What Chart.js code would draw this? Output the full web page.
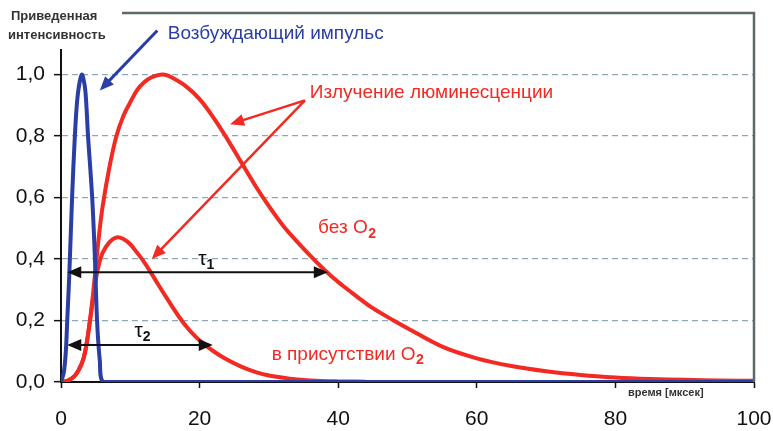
<!DOCTYPE html>
<html><head><meta charset="utf-8">
<script src="https://cdn.jsdelivr.net/npm/chart.js@4/dist/chart.umd.min.js"></script>
<style>html,body{margin:0;padding:0;background:#fff}#wrap{width:773px;height:431px;position:relative}</style>
</head><body><div id="wrap"><canvas id="c"></canvas></div>
<script>
// ---- data (time in µs, normalized intensity) ----
const pulseTimes  = [0, 0.4, 0.7, 0.9, 1.2, 1.6, 2.0, 2.4, 3.0, 3.5, 3.9, 4.5, 4.9, 5.2, 5.6, 6.1, 10, 100];
const pulseValues = [0, 0.03, 0.1, 0.2, 0.35, 0.6, 0.8, 0.93, 1.0, 0.95, 0.8, 0.6, 0.4, 0.2, 0.07, 0, 0, 0];

const timesNoO2 = [0, 1, 2, 3, 3.5, 4, 4.5, 5, 5.5, 6, 7, 8, 9, 10, 11, 12, 13, 14, 15, 16, 18, 20, 22, 24, 26, 28, 30, 32, 34, 36, 38, 40, 42, 45, 48, 50, 55, 60, 65, 70, 75, 80, 85, 90, 95, 100];
const lumNoO2   = [0, 0.005, 0.02, 0.06, 0.1, 0.17, 0.26, 0.37, 0.48, 0.57, 0.70, 0.80, 0.865, 0.91, 0.95, 0.975, 0.99, 0.998, 0.999, 0.99, 0.962, 0.92, 0.86, 0.79, 0.715, 0.64, 0.572, 0.51, 0.458, 0.41, 0.365, 0.325, 0.29, 0.24, 0.2, 0.175, 0.115, 0.077, 0.052, 0.035, 0.023, 0.015, 0.01, 0.007, 0.005, 0.004];

const timesO2 = [0, 1, 2, 3, 3.5, 4, 4.5, 5, 5.5, 6, 7, 8, 9, 10, 11, 12, 13, 14, 15, 16, 17, 18, 19, 20, 22, 24, 26, 28, 30, 33, 36, 40, 44];
const lumO2   = [0, 0.005, 0.02, 0.06, 0.1, 0.17, 0.25, 0.33, 0.385, 0.42, 0.455, 0.47, 0.465, 0.448, 0.42, 0.39, 0.355, 0.318, 0.282, 0.247, 0.213, 0.183, 0.157, 0.135, 0.1, 0.072, 0.05, 0.033, 0.021, 0.011, 0.005, 0.002, 0.001];

const xTicks = [0, 20, 40, 60, 80, 100];
const yTicks = [0, 0.2, 0.4, 0.6, 0.8, 1.0];

const RED = '#f22a22';
const BLUE = '#2a3ea6';
const FONT = '"Liberation Sans", Arial, sans-serif';

const pts = (xs, ys) => xs.map((x, i) => ({x, y: ys[i]}));

function arrowHead(ctx, x1, y1, x2, y2, len, w) {
  const a = Math.atan2(y2 - y1, x2 - x1);
  ctx.beginPath();
  ctx.moveTo(x2, y2);
  ctx.lineTo(x2 - len * Math.cos(a) + w * Math.sin(a), y2 - len * Math.sin(a) - w * Math.cos(a));
  ctx.lineTo(x2 - len * Math.cos(a) - w * Math.sin(a), y2 - len * Math.sin(a) + w * Math.cos(a));
  ctx.closePath();
  ctx.fill();
}
function arrow(ctx, x1, y1, x2, y2, color, width, len, w, both) {
  const a = Math.atan2(y2 - y1, x2 - x1);
  ctx.save();
  ctx.strokeStyle = color; ctx.fillStyle = color; ctx.lineWidth = width;
  ctx.beginPath();
  ctx.moveTo(both ? x1 + len * 0.8 * Math.cos(a) : x1, both ? y1 + len * 0.8 * Math.sin(a) : y1);
  ctx.lineTo(x2 - len * 0.8 * Math.cos(a), y2 - len * 0.8 * Math.sin(a));
  ctx.stroke();
  arrowHead(ctx, x1, y1, x2, y2, len, w);
  if (both) arrowHead(ctx, x2, y2, x1, y1, len, w);
  ctx.restore();
}
function textO2(ctx, pre, x, y, size, color) {
  ctx.save();
  ctx.fillStyle = color; ctx.textBaseline = 'middle'; ctx.textAlign = 'left';
  ctx.font = size + 'px ' + FONT;
  const s = pre + 'O';
  ctx.fillText(s, x, y);
  const w = ctx.measureText(s).width;
  ctx.font = 'bold ' + Math.round(size * 0.72) + 'px ' + FONT;
  ctx.fillText('2', x + w + 0.5, y + size * 0.3);
  ctx.restore();
}
function tau(ctx, sub, x, y) {
  ctx.save();
  ctx.fillStyle = '#111'; ctx.textBaseline = 'middle'; ctx.textAlign = 'left';
  ctx.font = '21px ' + FONT;
  ctx.fillText('τ', x, y);
  const w = ctx.measureText('τ').width;
  ctx.font = 'bold 14px ' + FONT;
  ctx.fillText(sub, x + w, y + 6);
  ctx.restore();
}

const annot = {
  id: 'annot',
  afterDraw(chart) {
    const ctx = chart.ctx, a = chart.chartArea;
    const X = v => chart.scales.x.getPixelForValue(v);
    const Y = v => chart.scales.y.getPixelForValue(v);
    // frame
    ctx.save();
    ctx.strokeStyle = '#5d6a6a'; ctx.lineWidth = 2.5;
    ctx.beginPath();
    ctx.moveTo(a.left, a.top); ctx.lineTo(a.right, a.top); ctx.lineTo(a.right, a.bottom);
    ctx.stroke();
    ctx.restore();
    // y-axis title box
    ctx.save();
    ctx.fillStyle = '#fff';
    ctx.fillRect(0, 0, 122, 49);
    ctx.fillStyle = '#333';
    ctx.font = 'bold 13px ' + FONT;
    ctx.textBaseline = 'middle'; ctx.textAlign = 'left';
    ctx.fillText('Приведенная', 11, 16);
    ctx.fillText('интенсивность', 8, 35);
    ctx.restore();

    // pulse label + arrow
    ctx.save();
    ctx.fillStyle = BLUE; ctx.font = '19px ' + FONT; ctx.textBaseline = 'middle';
    ctx.fillText('Возбуждающий импульс', X(15.4), Y(1.133));
    ctx.restore();
    arrow(ctx, X(13.9), Y(1.143), X(5.6), Y(0.948), BLUE, 3, 14, 6, false);

    // luminescence label + arrows
    ctx.save();
    ctx.fillStyle = RED; ctx.font = '19px ' + FONT; ctx.textBaseline = 'middle';
    ctx.fillText('Излучение люминесценции', X(35.9), Y(0.94));
    ctx.restore();
    arrow(ctx, X(35.2), Y(0.916), X(24.4), Y(0.838), RED, 2.5, 14, 6, false);
    arrow(ctx, X(35.2), Y(0.916), X(13.1), Y(0.40), RED, 2.5, 14, 6, false);

    textO2(ctx, 'без ', X(37.1), Y(0.5), 19, RED);
    textO2(ctx, 'в присутствии ', X(30.4), Y(0.088), 19, RED);

    // lifetime arrows
    arrow(ctx, X(0.9), Y(0.357), X(38.5), Y(0.357), '#111', 2, 14, 6, true);
    arrow(ctx, X(0.9), Y(0.12), X(21.9), Y(0.12), '#111', 2, 14, 6, true);
    tau(ctx, '1', X(19.8), Y(0.40));
    tau(ctx, '2', X(10.6), Y(0.165));

    // x-axis title
    ctx.save();
    ctx.fillStyle = '#333'; ctx.font = 'bold 11px ' + FONT;
    ctx.textBaseline = 'middle'; ctx.textAlign = 'left';
    ctx.fillText('время [мксек]', 628, 393);
    ctx.restore();
  }
};

Chart.defaults.font.family = FONT;
const lineStyle = {borderWidth: 4, pointRadius: 0, tension: 0.35, fill: false};
new Chart(document.getElementById('c'), {
  type: 'line',
  data: {
    datasets: [
      Object.assign({data: pts(timesNoO2, lumNoO2), borderColor: RED, order: 2}, lineStyle),
      Object.assign({data: pts(timesO2, lumO2), borderColor: RED, order: 2}, lineStyle),
      Object.assign({data: pts(pulseTimes, pulseValues), borderColor: BLUE, order: 1}, lineStyle, {tension: 0.3})
    ]
  },
  options: {
    responsive: true, maintainAspectRatio: false, animation: false,
    layout: {padding: {top: 13, right: 19, left: 0, bottom: 0}},
    plugins: {legend: {display: false}, tooltip: {enabled: false}},
    scales: {
      x: {
        type: 'linear', min: 0, max: 100,
        afterBuildTicks: s => { s.ticks = xTicks.map(v => ({value: v})); },
        afterFit: s => { s.height = 49; s.paddingLeft = 0; s.paddingRight = 0; },
        ticks: {color: '#111', font: {size: 21}, padding: 19, maxRotation: 0, callback: v => String(v)},
        grid: {drawOnChartArea: false, tickLength: 6, tickColor: '#111', tickWidth: 1.5},
        border: {color: '#111', width: 2}
      },
      y: {
        min: 0, max: 1.2,
        afterBuildTicks: s => { s.ticks = yTicks.map(v => ({value: v})); },
        afterFit: s => { s.width = 61; s.paddingTop = 0; s.paddingBottom = 0; },
        ticks: {color: '#111', font: {size: 21}, padding: 9, callback: v => v.toFixed(1).replace('.', ',')},
        grid: {color: c => (c.tick && c.tick.value === 0) ? 'rgba(0,0,0,0)' : '#8fa9b2', lineWidth: 1.3, tickLength: 7, tickColor: '#111', tickWidth: 1.5},
        border: {color: '#111', width: 2, dash: [6, 4]}
      }
    }
  },
  plugins: [annot]
});
</script></body></html>
